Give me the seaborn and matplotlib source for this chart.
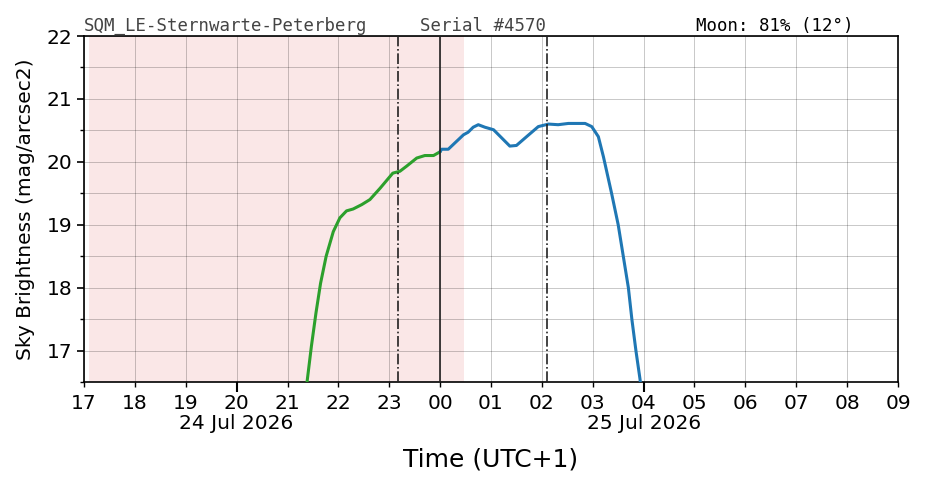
import matplotlib
matplotlib.use("Agg")
import matplotlib.pyplot as plt
import matplotlib.transforms as mtransforms
import seaborn as sns
import pandas as pd
import numpy as np

# hours since 2026-07-24 17:00 (UTC+1)
green_hours = [4.37, 4.39, 4.47, 4.56, 4.65, 4.76, 4.90, 5.03, 5.16, 5.29, 5.46, 5.62,
               5.82, 6.07, 6.21, 6.34, 6.54, 6.70, 6.87, 7.00]
green_mag = [16.40, 16.54, 17.07, 17.60, 18.07, 18.50, 18.89, 19.11, 19.22, 19.25, 19.32, 19.40,
             19.58, 19.82, 19.85, 19.93, 20.06, 20.10, 20.10, 20.16]

blue_hours = [7.00, 7.03, 7.16, 7.29, 7.46, 7.55, 7.65, 7.75, 7.88, 8.05, 8.21, 8.37, 8.50,
              8.70, 8.93, 9.13, 9.32, 9.52, 9.85, 9.98, 10.11, 10.21, 10.37, 10.50, 10.60,
              10.70, 10.77, 10.85, 10.93, 10.95]
blue_mag = [20.16, 20.20, 20.20, 20.30, 20.43, 20.47, 20.55, 20.59, 20.55, 20.51, 20.38, 20.25,
            20.26, 20.40, 20.56, 20.60, 20.59, 20.61, 20.61, 20.56, 20.40, 20.08, 19.50, 19.00,
            18.50, 18.00, 17.49, 16.99, 16.54, 16.40]

hour_labels = ["17", "18", "19", "20", "21", "22", "23", "00", "01", "02", "03",
               "04", "05", "06", "07", "08", "09"]
date_ticks = [3, 11]
date_labels = ["24 Jul 2026", "25 Jul 2026"]
twilight_span = [0.10, 7.47]
dashdot_times = [6.17, 9.10]
midnight = 7.0

header_left = "SQM_LE-Sternwarte-Peterberg"
header_mid = "Serial #4570"
header_right = "Moon: 81% (12°)"

sns.set_theme(style="ticks")
plt.rcParams['font.family'] = ['DejaVu Sans']
plt.rcParams['text.color'] = 'black'
plt.rcParams['axes.labelcolor'] = 'black'
plt.rcParams['xtick.color'] = 'black'
plt.rcParams['ytick.color'] = 'black'

fig = plt.figure(figsize=(9.26, 4.88), dpi=100)
ax = fig.add_axes([84/926, 1-382/488, (898-84)/926, (382-36)/488])

ax.axvspan(twilight_span[0], twilight_span[1], color="tab:red", alpha=0.11, lw=0, zorder=0)

gdf = pd.DataFrame({"h": green_hours, "m": green_mag})
bdf = pd.DataFrame({"h": blue_hours, "m": blue_mag})
sns.lineplot(data=gdf, x="h", y="m", ax=ax, color="tab:green", lw=2.2, sort=False, zorder=3)
sns.lineplot(data=bdf, x="h", y="m", ax=ax, color="tab:blue", lw=2.2, sort=False, zorder=3)

for t in dashdot_times:
    ax.axvline(t, color="#222222", ls="-.", lw=1.2, zorder=4)
ax.axvline(midnight, color="#222222", ls="-", lw=1.2, zorder=4)

ax.set_xlim(0, 16)
ax.set_ylim(16.5, 22)

ax.set_xticks(date_ticks)
ax.set_xticklabels([hour_labels[t] for t in date_ticks], fontsize=14.5)
minor = [i for i in range(17) if i not in date_ticks]
ax.set_xticks(minor, minor=True)
ax.set_xticklabels([hour_labels[i] for i in minor], minor=True, fontsize=14.5)
ax.tick_params(axis="x", which="major", length=7, width=1.5, pad=1.5, direction="out")
ax.tick_params(axis="x", which="minor", length=3.5, width=1, pad=5.0, direction="out")

trans = mtransforms.blended_transform_factory(ax.transData, ax.transAxes)
for t, d in zip(date_ticks, date_labels):
    ax.text(t, -0.0, d, transform=trans + mtransforms.ScaledTranslation(0, -32/100, fig.dpi_scale_trans),
            ha="center", va="top", fontsize=14.5)

ax.set_yticks([17, 18, 19, 20, 21, 22])
ax.set_yticks(np.arange(16.5, 22.01, 0.5), minor=True)
ax.tick_params(axis="y", which="major", length=5, width=1.2, labelsize=14.5)
ax.tick_params(axis="y", which="minor", length=3, width=1)

ax.grid(True, which="both", color="black", alpha=0.25, lw=0.6)
ax.set_axisbelow(True)
for s in ax.spines.values():
    s.set_color("black")
    s.set_linewidth(1.2)

ax.set_xlabel("Time (UTC+1)", fontsize=18, labelpad=25)
ax.set_ylabel("Sky Brightness (mag/arcsec2)", fontsize=14.5, labelpad=8)

fig.text(84/926, 1-31/488, header_left, family="DejaVu Sans Mono", fontsize=12.5, color="#444444", va="baseline")
fig.text(420/926, 1-31/488, header_mid, family="DejaVu Sans Mono", fontsize=12.5, color="#444444", va="baseline")
fig.text(696/926, 1-31/488, header_right, family="DejaVu Sans Mono", fontsize=12.5, color="black", va="baseline")

fig.savefig("out.png", dpi=100, facecolor="white")
